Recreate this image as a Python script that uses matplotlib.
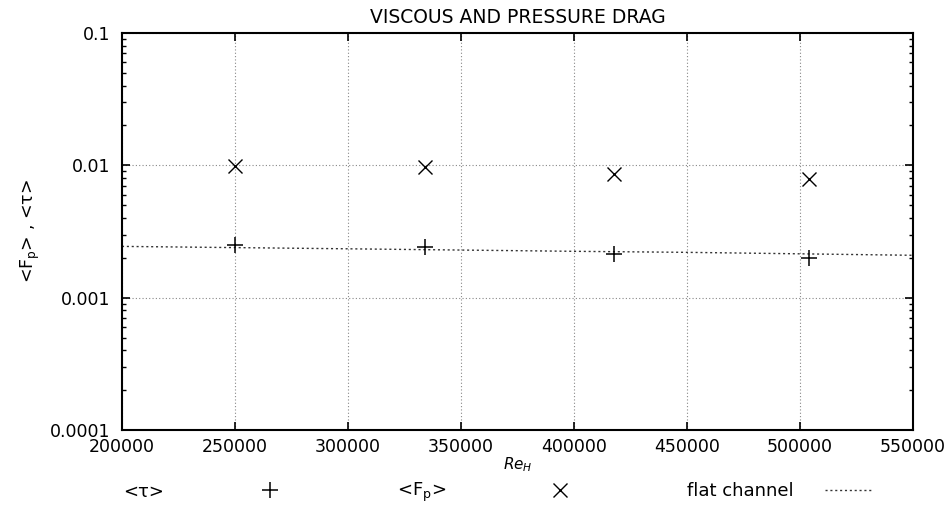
import matplotlib.pyplot as plt
from matplotlib.lines import Line2D

plt.rcParams['font.family'] = ['DejaVu Sans']

# data
re_h = [250000, 334000, 417500, 504000]
tau = [0.00248, 0.00240, 0.00212, 0.00198]
f_p = [0.0098, 0.0097, 0.00855, 0.0079]

flat_re = [200000, 300000, 400000, 450000, 550000]
flat_tau = [0.00244, 0.00234, 0.00224, 0.00220, 0.00209]

x_ticks = [200000, 250000, 300000, 350000, 400000, 450000, 500000, 550000]
y_ticks = [0.0001, 0.001, 0.01, 0.1]
y_labels = ["0.0001", "0.001", "0.01", "0.1"]

fig = plt.figure(figsize=(9.5, 5.05), dpi=100)
ax = fig.add_axes([0.1284, 0.1485, 0.8326, 0.7862])

ax.plot(flat_re, flat_tau, linestyle=(0, (1.5, 2)), color="#333333", linewidth=1.0)
ax.plot(re_h, tau, linestyle="none", marker="+", markersize=12, mew=1.1, color="black")
ax.plot(re_h, f_p, linestyle="none", marker="x", markersize=10, mew=1.0, color="black")

ax.set_yscale("log")
ax.set_xlim(200000, 550000)
ax.set_ylim(0.0001, 0.1)
ax.set_xticks(x_ticks)
ax.set_xticklabels([str(v) for v in x_ticks])
ax.set_yticks(y_ticks)
ax.set_yticklabels(y_labels)

ax.tick_params(which="both", direction="in", top=True, right=True, labelsize=12.5)
ax.tick_params(which="major", length=6, width=1.2)
ax.tick_params(axis="y", which="major", pad=8)
ax.tick_params(axis="x", which="major", pad=5.5)
ax.tick_params(which="minor", length=3, width=1.0)
ax.tick_params(axis="x", which="minor", bottom=False, top=False)
ax.grid(True, which="major", linestyle=(0, (1, 2)), color="#888888", linewidth=0.8)

for s in ax.spines.values():
    s.set_linewidth(1.5)

ax.set_title("VISCOUS AND PRESSURE DRAG", fontsize=13.5, pad=7)
ax.set_xlabel("$Re_H$", fontsize=11, labelpad=0)
ax.set_ylabel("<F$_\\mathregular{p}$> , <\u03c4>", fontsize=12.5, labelpad=6)

# key row below the plot
fs = 13
fig.text(123 / 950, 1 - 492 / 505, "<\u03c4>", fontsize=fs, va="center", ha="left")
fig.add_artist(Line2D([270 / 950], [1 - 490 / 505], marker="+", markersize=12, mew=1.1,
                      color="black", linestyle="none", transform=fig.transFigure))
fig.text(397 / 950, 1 - 492 / 505, "<F$_\\mathregular{p}$>", fontsize=fs, va="center", ha="left")
fig.add_artist(Line2D([560 / 950], [1 - 490 / 505], marker="x", markersize=10, mew=1.0,
                      color="black", linestyle="none", transform=fig.transFigure))
fig.text(687 / 950, 1 - 491 / 505, "flat channel", fontsize=fs, va="center", ha="left")
fig.add_artist(Line2D([825 / 950, 872 / 950], [1 - 490 / 505, 1 - 490 / 505],
                      linestyle=(0, (1.5, 2)), color="#333333", linewidth=1.0,
                      transform=fig.transFigure))

fig.savefig("out.png", dpi=100)
